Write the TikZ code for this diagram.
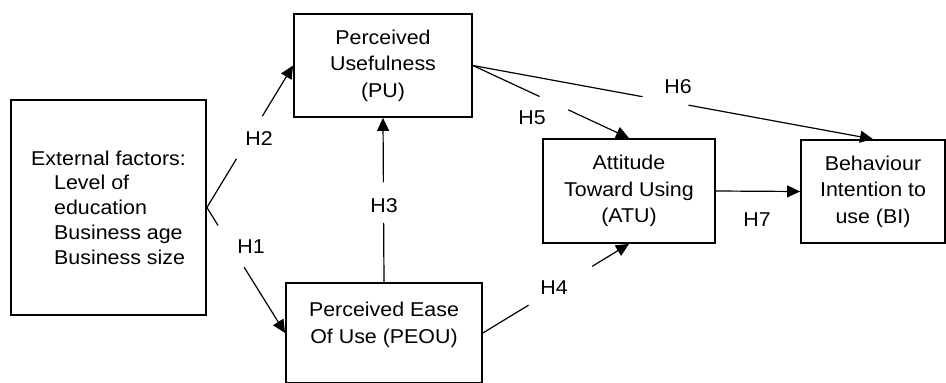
\documentclass[tikz,border=0pt]{standalone}
\usepackage{fontspec}
\setmainfont{Liberation Sans}[FakeStretch=1.07]
\usetikzlibrary{arrows.meta,calc}
\begin{document}
\begin{tikzpicture}[x=1pt,y=-1pt,
  box/.style={draw,line width=1.8pt,rectangle,inner sep=0pt,align=center,
    font=\fontsize{20}{26.5}\selectfont},
  conn/.style={line width=1.2pt},
  arr/.style={line width=1.2pt,-{Triangle[length=13pt,width=12pt]}},
  hlab/.style={inner sep=0pt,font=\fontsize{20}{24}\selectfont}]
\useasboundingbox (0,0) rectangle (946,383);
\clip (0,0) rectangle (946,383);
\node[box,minimum width=195pt,minimum height=215pt,align=left,
  font=\fontsize{20}{24.8}\selectfont] (ext) at (108.5,207.5)
  {External factors:\\\hspace*{23pt}Level of\\\hspace*{23pt}education\\\hspace*{23pt}Business age\\\hspace*{23pt}Business size};
\node[box,minimum width=178pt,minimum height=103pt] (pu) at (383,65.5)
  {Perceived\\Usefulness\\(PU)};
\node[box,minimum width=196pt,minimum height=100pt] (peou) at (384,333) {};
\node[inner sep=0pt,align=center,font=\fontsize{20}{26.5}\selectfont] (peoutxt) at (384,325)
  {Perceived Ease\\Of Use (PEOU)};
\node[box,minimum width=172pt,minimum height=104pt] (atu) at (629,191)
  {Attitude\\Toward Using\\(ATU)};
\node[box,minimum width=144pt,minimum height=103pt] (bi) at (873,191.5)
  {Behaviour\\Intention to\\use (BI)};
% H2
\draw[conn] (ext.east) -- ($(ext.east)!0.343!(pu.west)$);
\draw[arr] ($(ext.east)!0.643!(pu.west)$) -- (pu.west);
\node[hlab] (h2) at (259,139) {H2};
% H1
\draw[conn] (ext.east) -- ($(ext.east)!0.143!(peou.west)$);
\draw[arr] ($(ext.east)!0.476!(peou.west)$) -- (peou.west);
\node[hlab] (h1) at (251,247) {H1};
% H3
\draw[conn] (peou.north) -- ($(peou.north)!0.361!(pu.south)$);
\draw[arr] ($(peou.north)!0.608!(pu.south)$) -- (pu.south);
\node[hlab] (h3) at (384,206) {H3};
% H4
\draw[conn] (peou.east) -- ($(peou.east)!0.313!(atu.south)$);
\draw[arr] ($(peou.east)!0.748!(atu.south)$) -- (atu.south);
\node[hlab] (h4) at (554,288) {H4};
% H5
\draw[conn] (pu.east) -- ($(pu.east)!0.427!(atu.north)$);
\draw[arr] ($(pu.east)!0.611!(atu.north)$) -- (atu.north);
\node[hlab] (h5) at (532,118) {H5};
% H6
\draw[conn] (pu.east) -- ($(pu.east)!0.424!(bi.north)$);
\draw[arr] ($(pu.east)!0.539!(bi.north)$) -- (bi.north);
\node[hlab] (h6) at (678,87) {H6};
% H7
\draw[arr] (atu.east) -- (bi.west);
\node[hlab] (h7) at (757,220) {H7};
\end{tikzpicture}
\end{document}
